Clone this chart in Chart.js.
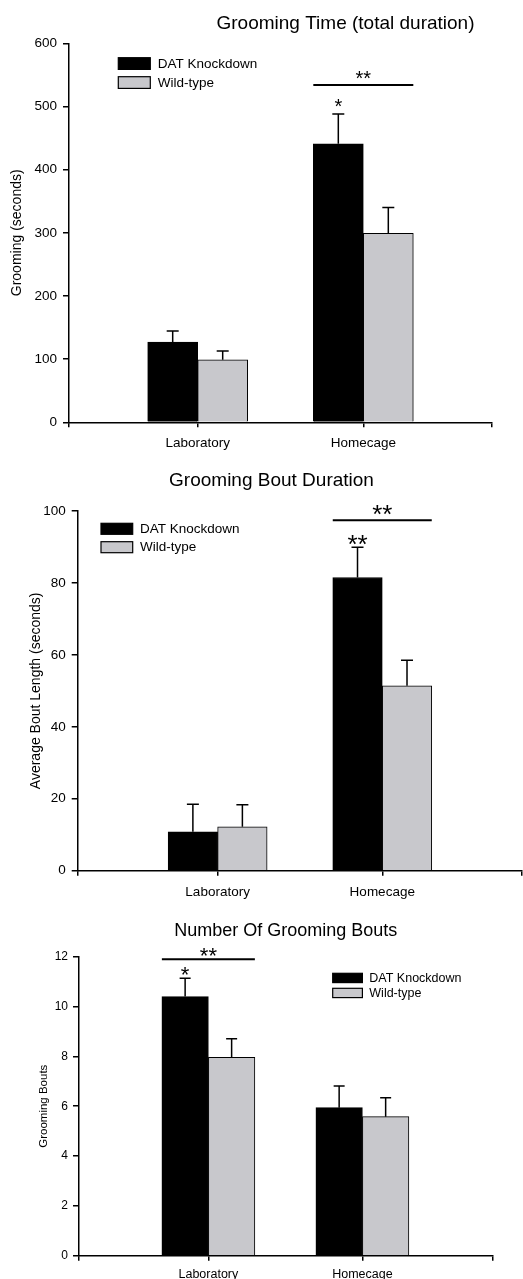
<!DOCTYPE html>
<html><head><meta charset="utf-8">
<script src="https://cdn.jsdelivr.net/npm/chart.js@4.4.0/dist/chart.umd.min.js"></script>
<style>
html,body{margin:0;padding:0;background:#fff;}
body{width:523px;height:1279px;position:relative;overflow:hidden;}
.box{position:absolute;left:0;width:523px;}
</style></head><body>
<div class="box" style="top:0;height:452px"><canvas id="c1"></canvas></div>
<div class="box" style="top:452px;height:453px"><canvas id="c2"></canvas></div>
<div class="box" style="top:905px;height:374px"><canvas id="c3"></canvas></div>
<script>
// ---------- data ----------
const categories = ['Laboratory', 'Homecage'];
const seriesNames = ['DAT Knockdown', 'Wild-type'];

// Chart 1: Grooming Time (total duration)
const timeTitle = 'Grooming Time (total duration)';
const timeAxisTitle = 'Grooming (seconds)';
const timeDAT = [127, 441];
const timeDATErr = [17.5, 47];
const timeWT = [99, 299];
const timeWTErr = [14, 41];
const timeTicks = [0, 100, 200, 300, 400, 500, 600];

// Chart 2: Grooming Bout Duration
const boutTitle = 'Grooming Bout Duration';
const boutAxisTitle = 'Average Bout Length (seconds)';
const boutDAT = [10.8, 81.5];
const boutDATErr = [7.7, 8.4];
const boutWT = [12.2, 51.4];
const boutWTErr = [6.1, 7.1];
const boutTicks = [0, 20, 40, 60, 80, 100];

// Chart 3: Number Of Grooming Bouts
const countTitle = 'Number Of Grooming Bouts';
const countAxisTitle = 'Grooming Bouts';
const countDAT = [10.4, 5.94];
const countDATErr = [0.74, 0.87];
const countWT = [7.96, 5.58];
const countWTErr = [0.75, 0.76];
const countTicks = [0, 2, 4, 6, 8, 10, 12];

// significance marks
const timeSig = {cat: 1, line: 534, pair: '**', pairAt: 550, single: '*', singleAt: 506};
const boutSig = {cat: 1, line: 97.45, pair: '**', pairAt: 100.4, single: '**', singleAt: 92.0};
const countSig = {cat: 0, line: 11.9, pair: '**', pairAt: 12.2, single: '*', singleAt: 11.44};

// ---------- styling ----------
const FONT = '"Liberation Sans", Arial, Helvetica, sans-serif';
const DARK = '#000000';
const GREY = '#c8c8cc';

const annot = {
  id: 'annot',
  afterDatasetsDraw(chart, args, o) {
    const ctx = chart.ctx, ys = chart.scales.y;
    ctx.save();
    ctx.strokeStyle = '#000';
    ctx.lineWidth = o.errWidth;
    chart.data.datasets.forEach((ds, di) => {
      const meta = chart.getDatasetMeta(di);
      meta.data.forEach((bar, i) => {
        const top = ys.getPixelForValue(ds.data[i].y + ds.errors[i]);
        ctx.beginPath();
        ctx.moveTo(bar.x, bar.y);
        ctx.lineTo(bar.x, top);
        ctx.moveTo(bar.x - o.cap / 2, top);
        ctx.lineTo(bar.x + o.cap / 2, top);
        ctx.stroke();
      });
    });
    const s = o.sig;
    const b0 = chart.getDatasetMeta(0).data[s.cat];
    const b1 = chart.getDatasetMeta(1).data[s.cat];
    const x0 = b0.x - b0.width / 2, x1 = b1.x + b1.width / 2;
    const ly = ys.getPixelForValue(s.line);
    ctx.lineWidth = o.sigWidth;
    ctx.beginPath(); ctx.moveTo(x0, ly); ctx.lineTo(x1, ly); ctx.stroke();
    ctx.fillStyle = '#000';
    ctx.font = o.starSize + 'px ' + FONT;
    ctx.textAlign = 'center';
    ctx.textBaseline = 'alphabetic';
    const drawStar = (txt, cx, cy) => {
      const m = ctx.measureText(txt);
      const base = cy + (m.actualBoundingBoxAscent - m.actualBoundingBoxDescent) / 2;
      ctx.fillText(txt, cx, base);
    };
    const catX = (b0.x + b1.x) / 2;
    drawStar(s.pair, catX, ys.getPixelForValue(s.pairAt));
    drawStar(s.single, b0.x, ys.getPixelForValue(s.singleAt));
    ctx.restore();
  },
  afterDraw(chart, args, o) {
    const ctx = chart.ctx;
    ctx.save();
    ctx.fillStyle = '#000';
    ctx.textAlign = 'center';
    ctx.textBaseline = 'middle';
    ctx.font = o.title.size + 'px ' + FONT;
    ctx.fillText(o.title.text, o.title.x, o.title.y);
    const L = o.legend;
    ctx.font = L.size + 'px ' + FONT;
    ctx.textAlign = 'left';
    chart.data.datasets.forEach((ds, i) => {
      const by = L.y + i * L.step;
      ctx.fillStyle = ds.backgroundColor;
      ctx.fillRect(L.x, by, L.w, L.h);
      ctx.strokeStyle = '#000';
      ctx.lineWidth = 1.2;
      ctx.strokeRect(L.x, by, L.w, L.h);
      ctx.fillStyle = '#000';
      ctx.fillText(ds.label, L.textX, by + L.h / 2 + 0.5);
    });
    ctx.restore();
  }
};

function makeChart(id, cfg) {
  const mkDs = (label, vals, errs, color) => ({
    label, backgroundColor: color, borderColor: '#000', borderWidth: 1, borderSkipped: 'start',
    data: vals.map((v, i) => ({x: i, y: v})), errors: errs
  });
  const t = cfg.ticks;
  return new Chart(document.getElementById(id), {
    type: 'bar',
    data: {
      datasets: [
        mkDs(seriesNames[0], cfg.dat, cfg.datErr, DARK),
        mkDs(seriesNames[1], cfg.wt, cfg.wtErr, GREY)
      ]
    },
    options: {
      responsive: true, maintainAspectRatio: false, animation: false,
      events: [],
      barThickness: cfg.barW,
      layout: {padding: {top: cfg.area.top, right: cfg.area.right, bottom: 0, left: 0}},
      plugins: {
        legend: {display: false}, title: {display: false}, tooltip: {enabled: false},
        annot: {
          errWidth: 1.5, cap: cfg.cap, sigWidth: 2, starSize: cfg.starSize, sig: cfg.sig,
          title: cfg.title, legend: cfg.legend
        }
      },
      scales: {
        x: {
          type: 'linear', min: cfg.xRange[0], max: cfg.xRange[1], offset: false,
          afterBuildTicks: (s) => { s.ticks = [cfg.xRange[0], 0, 1, cfg.xRange[1]].map(v => ({value: v})); },
          afterFit: (s) => { s.height = cfg.xH; s.paddingLeft = 0; s.paddingRight = 0; },
          grid: {offset: false, drawOnChartArea: false, drawTicks: true, tickLength: 5, color: '#000', lineWidth: 1.5},
          border: {display: true, color: '#000', width: 1.5},
          ticks: {
            autoSkip: false, maxRotation: 0, color: '#000', padding: cfg.xPad,
            font: {family: FONT, size: cfg.xFont},
            callback: (v) => (v === 0 || v === 1) ? categories[v] : ''
          }
        },
        y: {
          min: t[0], max: t[t.length - 1],
          afterBuildTicks: (s) => { s.ticks = t.map(v => ({value: v})); },
          afterFit: (s) => { s.width = cfg.area.left; },
          grid: {drawOnChartArea: false, drawTicks: true, tickLength: 6, color: '#000', lineWidth: 1.5},
          border: {display: true, color: '#000', width: 1.5},
          ticks: {color: '#000', padding: cfg.yPad, font: {family: FONT, size: cfg.yFont}},
          title: {display: true, text: cfg.axisTitle, color: '#000',
                  font: {family: FONT, size: cfg.axisTitleSize}, padding: {top: cfg.axisTitlePad, bottom: 0}}
        }
      }
    },
    plugins: [annot]
  });
}

makeChart('c1', {
  dat: timeDAT, datErr: timeDATErr, wt: timeWT, wtErr: timeWTErr, ticks: timeTicks,
  axisTitle: timeAxisTitle, axisTitleSize: 14, axisTitlePad: 8.3,
  area: {top: 43.3, right: 31, left: 69}, xH: 452 - 422.3, xRange: [-0.777, 1.777],
  barW: 50, cap: 12, starSize: 20, sig: timeSig, xFont: 13.5, xPad: 8, yFont: 13.5, yPad: 6,
  title: {text: timeTitle, x: 345.5, y: 23.3, size: 19},
  legend: {x: 118.3, y: 57.7, w: 32, h: 11.7, step: 19, textX: 157.7, size: 13.5}
});

makeChart('c2', {
  dat: boutDAT, datErr: boutDATErr, wt: boutWT, wtErr: boutWTErr, ticks: boutTicks,
  axisTitle: boutAxisTitle, axisTitleSize: 14, axisTitlePad: 27.3,
  area: {top: 59, right: 1.3, left: 77.7}, xH: 453 - 418.7, xRange: [-0.85, 1.847],
  barW: 49.5, cap: 12, starSize: 26, sig: boutSig, xFont: 13.5, xPad: 8, yFont: 13.5, yPad: 6,
  title: {text: boutTitle, x: 271.5, y: 28.7, size: 19},
  legend: {x: 101, y: 71.3, w: 31.7, h: 11, step: 18.4, textX: 140, size: 13.5}
});

makeChart('c3', {
  dat: countDAT, datErr: countDATErr, wt: countWT, wtErr: countWTErr, ticks: countTicks,
  axisTitle: countAxisTitle, axisTitleSize: 11.5, axisTitlePad: 37.4,
  area: {top: 51.7, right: 30.3, left: 79}, xH: 374 - 350.7, xRange: [-0.84, 1.846],
  barW: 46.5, cap: 11, starSize: 22, sig: countSig, xFont: 12.5, xPad: 6, yFont: 12, yPad: 5,
  title: {text: countTitle, x: 285.8, y: 25.7, size: 18},
  legend: {x: 332.7, y: 68.3, w: 29.7, h: 9.3, step: 15, textX: 369.3, size: 12.5}
});
</script>
</body></html>
